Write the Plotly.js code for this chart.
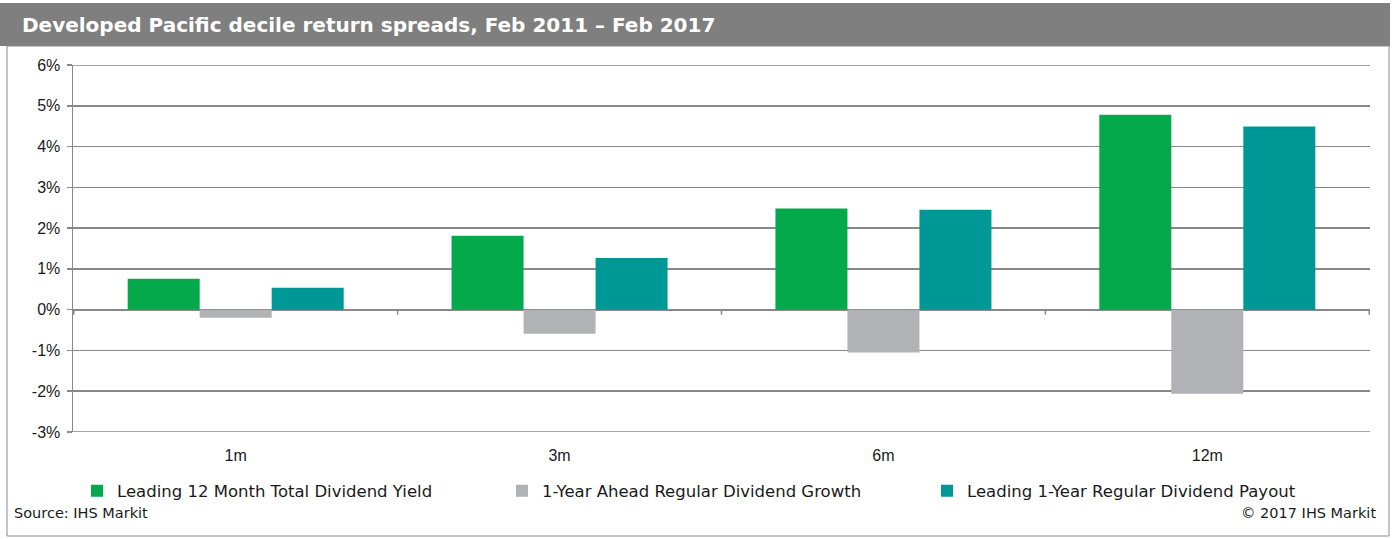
<!DOCTYPE html>
<html>
<head>
<meta charset="utf-8">
<script src="https://cdn.plot.ly/plotly-3.0.1.min.js"></script>
<style>
  html, body { margin: 0; padding: 0; background: #fff; }
  #chart { width: 1392px; height: 539px; }
</style>
</head>
<body>
<div id="chart"></div>
<script>
// Data
const horizons = ["1m", "3m", "6m", "12m"];
const dividendYield = [0.76, 1.81, 2.48, 4.78];
const dividendGrowth = [-0.2, -0.59, -1.05, -2.06];
const dividendPayout = [0.54, 1.27, 2.45, 4.49];
const seriesNames = [
    "Leading 12 Month Total Dividend Yield",
    "1-Year Ahead Regular Dividend Growth",
    "Leading 1-Year Regular Dividend Payout"
];
const yTicks = [-3, -2, -1, 0, 1, 2, 3, 4, 5, 6];

const colors = ["#04a94c", "#b1b2b6", "#009797"];
const font = "Liberation Sans, Arial, sans-serif";
const wideFont = "DejaVu Sans, Arial, sans-serif";

// Plot area in pixels, used to place the frame and title bar
const W = 1392, H = 539;
const margin = {l: 73, r: 22, t: 65, b: 107};
const plotW = W - margin.l - margin.r;
const plotH = H - margin.t - margin.b;
const px = x => (x - margin.l) / plotW;
const py = y => (H - margin.b - y) / plotH;

const traces = [dividendYield, dividendGrowth, dividendPayout].map((vals, i) => ({
    type: "bar",
    name: seriesNames[i],
    x: horizons,
    y: vals,
    marker: {color: colors[i]},
    hoverinfo: "skip"
}));

// small ticks on the zero line between categories
const zeroTicks = [];
for (let i = 0; i <= horizons.length; i++) {
    zeroTicks.push({
        type: "line", xref: "x", yref: "y",
        ysizemode: "pixel", yanchor: 0,
        x0: i - 0.5, x1: i - 0.5, y0: 0, y1: -5,
        line: {color: "#888", width: 1.5}
    });
}

// plotly drops the grid lines at the ends of the range, draw those two
const edgeGrid = [yTicks[0], yTicks[yTicks.length - 1]].map(v => ({
    type: "line", xref: "paper", yref: "y",
    x0: 0, x1: 1, y0: v, y1: v,
    line: {color: "#888", width: 1.5}, layer: "below"
}));

const layout = {
    width: W,
    height: H,
    margin: margin,
    paper_bgcolor: "#fff",
    plot_bgcolor: "#fff",
    font: {family: font, size: 15, color: "#1a1a1a"},
    barmode: "group",
    bargap: 0.333,
    bargroupgap: 0,
    showlegend: true,
    legend: {
        orientation: "h",
        x: px(77), xanchor: "left",
        y: py(491), yanchor: "middle",
        font: {family: wideFont, size: 16.5, color: "#1a1a1a"},
        entrywidth: 380, entrywidthmode: "pixels",
        itemwidth: 30,
        traceorder: "normal"
    },
    xaxis: {
        type: "category",
        showline: false,
        showgrid: false,
        ticks: "",
        ticklabelstandoff: 12,
        tickfont: {size: 16},
        fixedrange: true
    },
    yaxis: {
        range: [yTicks[0], yTicks[yTicks.length - 1]],
        tickvals: yTicks,
        ticktext: yTicks.map(v => v + "%"),
        showline: true,
        linecolor: "#888",
        linewidth: 1.5,
        ticks: "outside",
        ticklen: 5,
        tickcolor: "#888",
        tickwidth: 1.5,
        ticklabelstandoff: 3,
        showgrid: true,
        gridcolor: "#888",
        gridwidth: 1.5,
        zeroline: true,
        zerolinecolor: "#888",
        zerolinewidth: 2,
        tickfont: {size: 16},
        fixedrange: true
    },
    shapes: [
        // outer frame
        {type: "rect", xref: "paper", yref: "paper",
         x0: px(7), x1: px(1389), y0: py(536), y1: py(46),
         line: {color: "#8c8c8c", width: 1}, fillcolor: "rgba(0,0,0,0)", layer: "below"},
        // title bar
        {type: "rect", xref: "paper", yref: "paper",
         x0: px(0), x1: px(1390), y0: py(46), y1: py(3),
         line: {width: 0}, fillcolor: "#7f7f7f", layer: "below"}
    ].concat(edgeGrid, zeroTicks),
    annotations: [
        {text: "<b>Developed Pacific decile return spreads, Feb 2011 – Feb 2017</b>",
         xref: "paper", yref: "paper", x: px(20), y: py(25),
         xanchor: "left", yanchor: "middle", showarrow: false,
         font: {family: wideFont, size: 20, color: "#fff"}},
        {text: "Source: IHS Markit",
         xref: "paper", yref: "paper", x: px(12), y: py(513),
         xanchor: "left", yanchor: "middle", showarrow: false,
         font: {family: wideFont, size: 14.5, color: "#1a1a1a"}},
        {text: "© 2017 IHS Markit",
         xref: "paper", yref: "paper", x: px(1378), y: py(513),
         xanchor: "right", yanchor: "middle", showarrow: false,
         font: {family: wideFont, size: 14.5, color: "#1a1a1a"}}
    ]
};

Plotly.newPlot("chart", traces, layout, {displayModeBar: false, staticPlot: true});
</script>
</body>
</html>
